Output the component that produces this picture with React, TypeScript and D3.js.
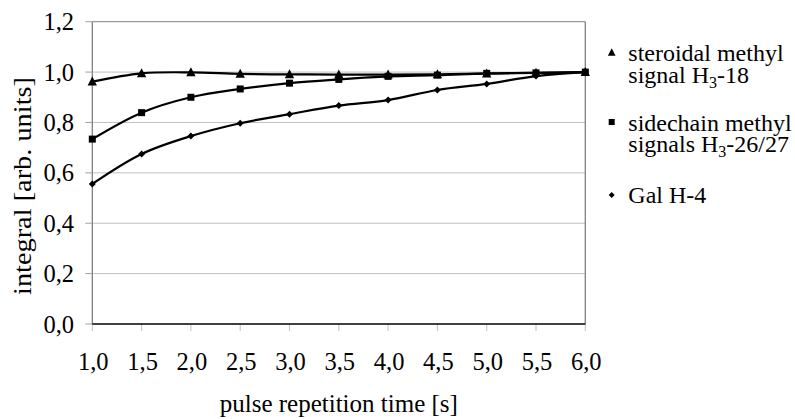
import React from "react";
import * as d3 from "d3";

const times = [1.0, 1.5, 2.0, 2.5, 3.0, 3.5, 4.0, 4.5, 5.0, 5.5, 6.0];
const steroidal = [0.962, 0.995, 0.999, 0.993, 0.991, 0.990, 0.990, 0.991, 0.994, 0.997, 1.0];
const sidechain = [0.734, 0.839, 0.900, 0.933, 0.956, 0.971, 0.983, 0.988, 0.995, 0.997, 1.0];
const galH4 = [0.556, 0.675, 0.746, 0.797, 0.833, 0.867, 0.889, 0.929, 0.953, 0.984, 1.0];
const xTicks = [1.0, 1.5, 2.0, 2.5, 3.0, 3.5, 4.0, 4.5, 5.0, 5.5, 6.0];
const yTicks = [0, 0.2, 0.4, 0.6, 0.8, 1.0, 1.2];

const W = 795;
const H = 419;
const FONT = "'Liberation Serif', 'Times New Roman', serif";

const fmt = (v: number) => v.toFixed(1).replace(".", ",");

function Marker({ kind, x, y, s }: { kind: string; x: number; y: number; s: number }) {
  if (kind === "tri") {
    const h = s;
    return (
      <path
        d={`M${x},${y - h * 0.6}L${x + h * 0.55},${y + h * 0.45}L${x - h * 0.55},${y + h * 0.45}Z`}
        fill="#000"
      />
    );
  }
  if (kind === "sq") {
    return <rect x={x - s / 2} y={y - s / 2} width={s} height={s} fill="#000" />;
  }
  return (
    <path d={`M${x},${y - s / 2}L${x + s / 2},${y}L${x},${y + s / 2}L${x - s / 2},${y}Z`} fill="#000" />
  );
}

export default function App() {
  const x = d3.scaleLinear().domain([1, 6]).range([92.3, 585.3]);
  const y = d3.scaleLinear().domain([0, 1.2]).range([324, 21.7]);
  const line = d3
    .line<number>()
    .x((_, i) => x(times[i]))
    .y((d) => y(d))
    .curve(d3.curveCatmullRom.alpha(0.5));

  const series = [
    { name: "steroidal", data: steroidal, kind: "tri", ms: 8.5 },
    { name: "sidechain", data: sidechain, kind: "sq", ms: 7 },
    { name: "gal", data: galH4, kind: "dia", ms: 7 },
  ];

  const [x0, x1] = x.range();
  const [y0, y1] = y.range();

  return (
    <svg
      width={W}
      height={H}
      style={{ position: "absolute", left: 0, top: 0, background: "#fff" }}
      fontFamily={FONT}
    >
      <rect x={0} y={0} width={W} height={H} fill="#fff" />
      {/* gridlines */}
      {yTicks.slice(1, -1).map((t) => (
        <line key={t} x1={x0} x2={x1} y1={y(t)} y2={y(t)} stroke="#c0c0c0" strokeWidth={1} />
      ))}
      {/* frame */}
      <line x1={x0} x2={x1} y1={y1} y2={y1} stroke="#808080" strokeWidth={1} />
      <line x1={x1} x2={x1} y1={y1} y2={y0} stroke="#808080" strokeWidth={1.3} />
      <line x1={x0} x2={x0} y1={y1} y2={y0} stroke="#808080" strokeWidth={1.3} />
      {/* y ticks */}
      {yTicks.map((t) => (
        <g key={t}>
          <line x1={x0 - 7} x2={x0} y1={y(t)} y2={y(t)} stroke="#a0a0a0" strokeWidth={1} />
          <text x={74} y={y(t)} dy="0.35em" textAnchor="end" fontSize={24.5} fill="#000">
            {fmt(t)}
          </text>
        </g>
      ))}
      {/* x ticks */}
      {xTicks.map((t) => (
        <g key={t}>
          <line x1={x(t)} x2={x(t)} y1={y0} y2={y0 + 7} stroke="#c0c0c0" strokeWidth={1} />
          <text x={x(t) + 1} y={370} textAnchor="middle" fontSize={24.5} fill="#000">
            {fmt(t)}
          </text>
        </g>
      ))}
      <line x1={x0} x2={x1} y1={y0} y2={y0} stroke="#000" strokeWidth={1.5} />
      {/* series */}
      {series.map((s) => (
        <g key={s.name}>
          <path d={line(s.data) || ""} fill="none" stroke="#000" strokeWidth={2.2} />
          {s.data.map((v, i) => (
            <Marker key={i} kind={s.kind} x={x(times[i])} y={y(v)} s={s.ms} />
          ))}
        </g>
      ))}
      {/* axis titles */}
      <text x={(x0 + x1) / 2} y={412} textAnchor="middle" fontSize={25} fill="#000">
        pulse repetition time [s]
      </text>
      <text
        transform={`translate(31,186) rotate(-90)`}
        textAnchor="middle"
        fontSize={25.5}
        fill="#000"
        textLength={218}
        lengthAdjust="spacingAndGlyphs"
      >
        integral [arb. units]
      </text>
      {/* legend */}
      <g fontSize={24} fill="#000">
        <Marker kind="tri" x={611.7} y={52.5} s={7} />
        <text x={628.3} y={60.7}>steroidal methyl</text>
        <text x={628.3} y={82.7}>
          signal H<tspan fontSize={16} dy={5}>3</tspan>
          <tspan dy={-5}>-18</tspan>
        </text>
        <Marker kind="sq" x={611.7} y={122} s={6} />
        <text x={628.3} y={130.7}>sidechain methyl</text>
        <text x={628.3} y={151.7}>
          signals H<tspan fontSize={16} dy={5}>3</tspan>
          <tspan dy={-5}>-26/27</tspan>
        </text>
        <Marker kind="dia" x={611.7} y={195} s={6} />
        <text x={628.3} y={203.3}>Gal H-4</text>
      </g>
    </svg>
  );
}
